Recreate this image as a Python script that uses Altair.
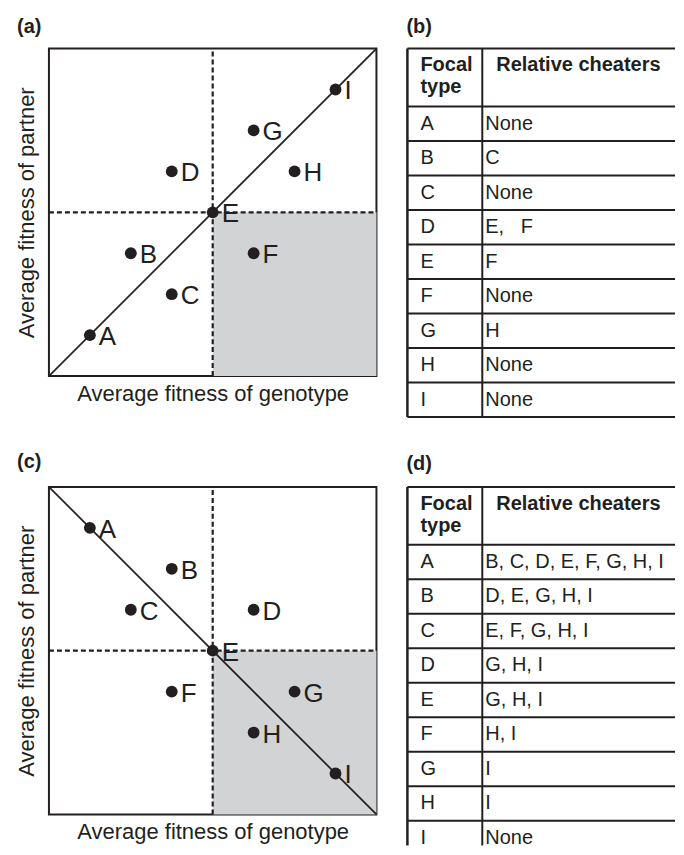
import altair as alt
import pandas as pd

# ---------------- data ----------------
types = ["A", "B", "C", "D", "E", "F", "G", "H", "I"]

# panel (a)
a_genotype = [1, 2, 3, 3, 4, 5, 5, 6, 7]
a_partner = [1, 3, 2, 5, 4, 3, 6, 5, 7]
# panel (c)
c_genotype = [1, 3, 2, 5, 4, 3, 6, 5, 7]
c_partner = [7, 6, 5, 5, 4, 3, 3, 2, 1]

# tables
b_cheaters = ["None", "C", "None", "E,\u00a0\u00a0 F", "F", "None", "H", "None", "None"]
d_cheaters = ["B, C, D, E, F, G, H, I", "D, E, G, H, I", "E, F, G, H, I",
              "G, H, I", "G, H, I", "H, I", "I", "I", "None"]

header_left = ["Focal", "type"]
header_right = ["Relative cheaters"]

AXIS_MAX = 8
MID = 4

FONT = "Liberation Sans"
INK = "#231f20"

# ---------------- scatter panels ----------------
SC = 328


def scatter(genotype, partner, diag, title, toff):
    pts = pd.DataFrame({"g": genotype, "p": partner, "t": types})
    xs = alt.Scale(domain=[0, AXIS_MAX], nice=False, zero=False)
    ys = alt.Scale(domain=[0, AXIS_MAX], nice=False, zero=False)
    xax = alt.Axis(title="Average fitness of genotype", labels=False, ticks=False,
                   domain=False, grid=False, titleFont=FONT, titleFontSize=22,
                   titleFontWeight="normal", titleColor=INK, titlePadding=7)
    yax = alt.Axis(title="Average fitness of partner", labels=False, ticks=False,
                   domain=False, grid=False, titleFont=FONT, titleFontSize=22,
                   titleFontWeight="normal", titleColor=INK, titlePadding=10)

    shade = alt.Chart(pd.DataFrame({"x": [MID], "x2": [AXIS_MAX], "y": [0], "y2": [MID]})).mark_rect(
        color="#d1d3d4").encode(
        x=alt.X("x:Q", scale=xs, axis=xax), x2="x2:Q",
        y=alt.Y("y:Q", scale=ys, axis=yax), y2="y2:Q")

    dashed = alt.Chart(pd.DataFrame({
        "x": [MID, 0], "x2": [MID, AXIS_MAX], "y": [0, MID], "y2": [AXIS_MAX, MID]})).mark_rule(
        color=INK, strokeWidth=2.2, strokeDash=[5, 3]).encode(
        x=alt.X("x:Q", scale=xs), x2="x2:Q", y=alt.Y("y:Q", scale=ys), y2="y2:Q")

    line = alt.Chart(pd.DataFrame({"x": [0], "x2": [AXIS_MAX], "y": [diag[0]], "y2": [diag[1]]})).mark_rule(
        color=INK, strokeWidth=1.7).encode(
        x=alt.X("x:Q", scale=xs), x2="x2:Q", y=alt.Y("y:Q", scale=ys), y2="y2:Q")

    dots = alt.Chart(pts).mark_circle(size=140, opacity=1, color=INK).encode(
        x=alt.X("g:Q", scale=xs), y=alt.Y("p:Q", scale=ys))

    labels = alt.Chart(pts).mark_text(align="left", baseline="middle", dx=9, dy=2,
                                       font=FONT, fontSize=26, color=INK).encode(
        x=alt.X("g:Q", scale=xs), y=alt.Y("p:Q", scale=ys), text="t:N")

    return alt.layer(shade, dashed, line, dots, labels).properties(
        width=SC, height=SC,
        view=alt.ViewBackground(stroke=INK, strokeWidth=2),
        title=alt.TitleParams(title, anchor="start", frame="group", dx=-32, offset=toff,
                              baseline="alphabetic", font=FONT, fontSize=20,
                              fontWeight="bold", color=INK))


# ---------------- table panels ----------------
TW = 268          # table width (px)
COL = 75          # focal column width (px)
UNIT = 34.55      # px per row
HEAD = 1.68       # header height in row units


def table(cheaters, title, height, toff):
    ymax = height / UNIT
    ys = alt.Scale(domain=[0, ymax], reverse=True, nice=False, zero=False)
    n = len(types)
    rows = pd.DataFrame({
        "t": types, "c": cheaters,
        "yb": [HEAD + i + 0.67 for i in range(n)]})
    bounds = pd.DataFrame({"b": [0, HEAD] + [HEAD + i + 1 for i in range(n)]})
    bounds = bounds[bounds["b"] <= ymax]
    hl = pd.DataFrame({"h": header_left, "yb": [0.66, 1.3]})
    hr = pd.DataFrame({"h": header_right, "yb": [0.66]})
    one = pd.DataFrame({"k": [0]})

    hrules = alt.Chart(bounds).mark_rule(color=INK, strokeWidth=2).encode(
        y=alt.Y("b:Q", scale=ys, axis=None), x=alt.value(0), x2=alt.value(TW))
    vleft = alt.Chart(one).mark_rule(color=INK, strokeWidth=2.5).encode(
        x=alt.value(0), y=alt.value(0), y2=alt.value(height))
    vmid = alt.Chart(one).mark_rule(color=INK, strokeWidth=2).encode(
        x=alt.value(COL), y=alt.value(0), y2=alt.value(height))

    txt = dict(align="left", baseline="alphabetic", font=FONT, fontSize=20, color=INK)
    focal = alt.Chart(rows).mark_text(**txt).encode(
        x=alt.value(13), y=alt.Y("yb:Q", scale=ys, axis=None), text="t:N")
    cheat = alt.Chart(rows).mark_text(**txt).encode(
        x=alt.value(COL + 3), y=alt.Y("yb:Q", scale=ys, axis=None), text="c:N")
    htxt = dict(txt, fontWeight="bold")
    h1 = alt.Chart(hl).mark_text(**htxt).encode(
        x=alt.value(13), y=alt.Y("yb:Q", scale=ys, axis=None), text="h:N")
    h2 = alt.Chart(hr).mark_text(**htxt).encode(
        x=alt.value(COL + 14), y=alt.Y("yb:Q", scale=ys, axis=None), text="h:N")

    return alt.layer(hrules, vleft, vmid, focal, cheat, h1, h2).properties(
        width=TW, height=height,
        title=alt.TitleParams(title, anchor="start", frame="group", dx=-1, offset=toff,
                              baseline="alphabetic", font=FONT, fontSize=20,
                              fontWeight="bold", color=INK))


pa = scatter(a_genotype, a_partner, [0, AXIS_MAX], "(a)", -6)
pb = table(b_cheaters, "(b)", 369, -6)
pc = scatter(c_genotype, c_partner, [AXIS_MAX, 0], "(c)", -2)
pd_ = table(d_cheaters, "(d)", 359, -4)

chart = alt.concat(pa, pb, pc, pd_, columns=2,
                   spacing={"row": 70, "column": 31}).properties(
    bounds="flush",
    padding={"left": 7, "top": 7, "right": 0, "bottom": 0},
    background="white",
).configure_view(stroke=None)

chart.save("out.html", embed_options={"renderer": "svg", "actions": False})
